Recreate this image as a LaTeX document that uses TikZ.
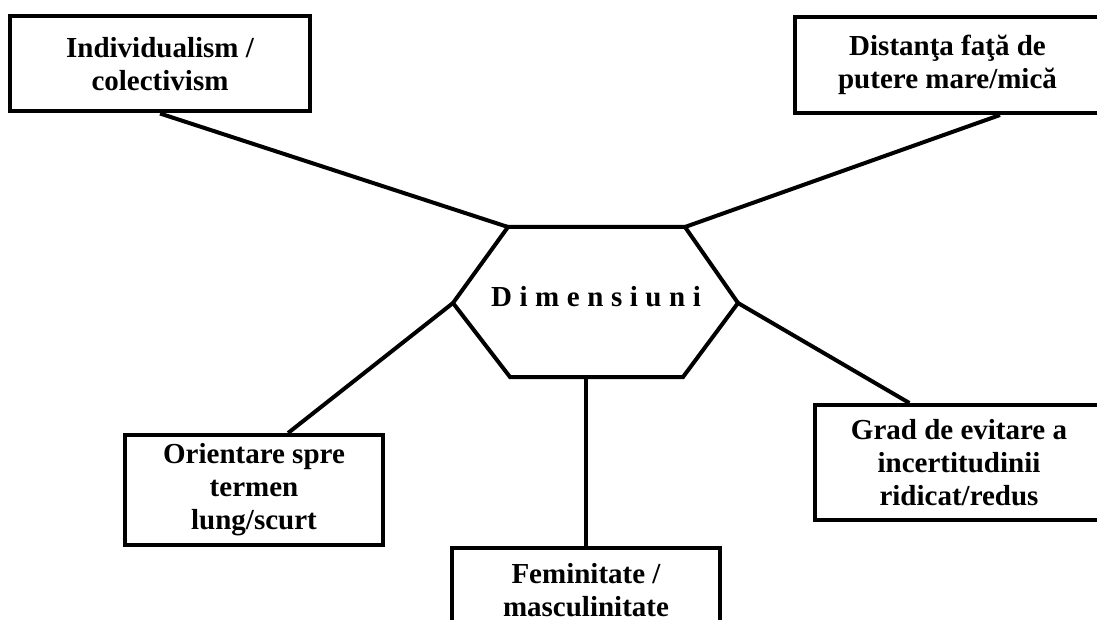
\documentclass[tikz,border=0pt]{standalone}
\usepackage{fontspec}
\setmainfont{Liberation Serif}
\newfontfamily\spacedfont[LetterSpace=26]{Liberation Serif}
\usetikzlibrary{calc}
\begin{document}
\begin{tikzpicture}[x=1pt,y=-1pt,
  box/.style={draw, line width=4pt, align=center, inner sep=0pt,
    font=\fontsize{29}{33}\selectfont\bfseries},
  link/.style={line width=4pt}]
\useasboundingbox (0,0) rectangle (1097,620);
\clip (0,0) rectangle (1097,620);

% dimension boxes
\node[box, minimum width=300pt, minimum height=95pt] (ind) at (160,64)
  {Individualism /\\colectivism};
\node[box, minimum width=305pt, minimum height=96pt] (dist) at (947.5,65)
  {Distanţa faţă de\\putere mare/mică};
\node[box, minimum width=258pt, minimum height=110pt] (ori) at (254,490)
  {Orientare spre\\termen\\lung/scurt};
\node[box, minimum width=268pt, minimum height=84pt] (fem) at (586,590)
  {Feminitate /\\masculinitate};
\node[box, minimum width=288pt, minimum height=115pt] (grad) at (959,462.5)
  {Grad de evitare a\\incertitudinii\\ridicat/redus};

% central hexagon
\coordinate (h1) at (508,227);
\coordinate (h2) at (685,227);
\coordinate (h3) at (738,303);
\coordinate (h4) at (683,377);
\coordinate (h5) at (510,377);
\coordinate (h6) at (453,303);
\draw[link, line join=miter] (h1) -- (h2) -- (h3) -- (h4) -- (h5) -- (h6) -- cycle;
\node[font=\spacedfont\bfseries\fontsize{29}{33}\selectfont] (dim) at (596,297) {Dimensiuni};

% connectors
\draw[link] (ind.south) -- (h1);
\draw[link] ($(dist.south west)!0.67!(dist.south east)$) -- (h2);
\draw[link] ($(ori.north west)!0.63!(ori.north east)$) -- (h6);
\draw[link] ($(grad.north west)!0.33!(grad.north east)$) -- (h3);
\draw[link] (fem.north) -- (fem.north |- h5);
\end{tikzpicture}
\end{document}
